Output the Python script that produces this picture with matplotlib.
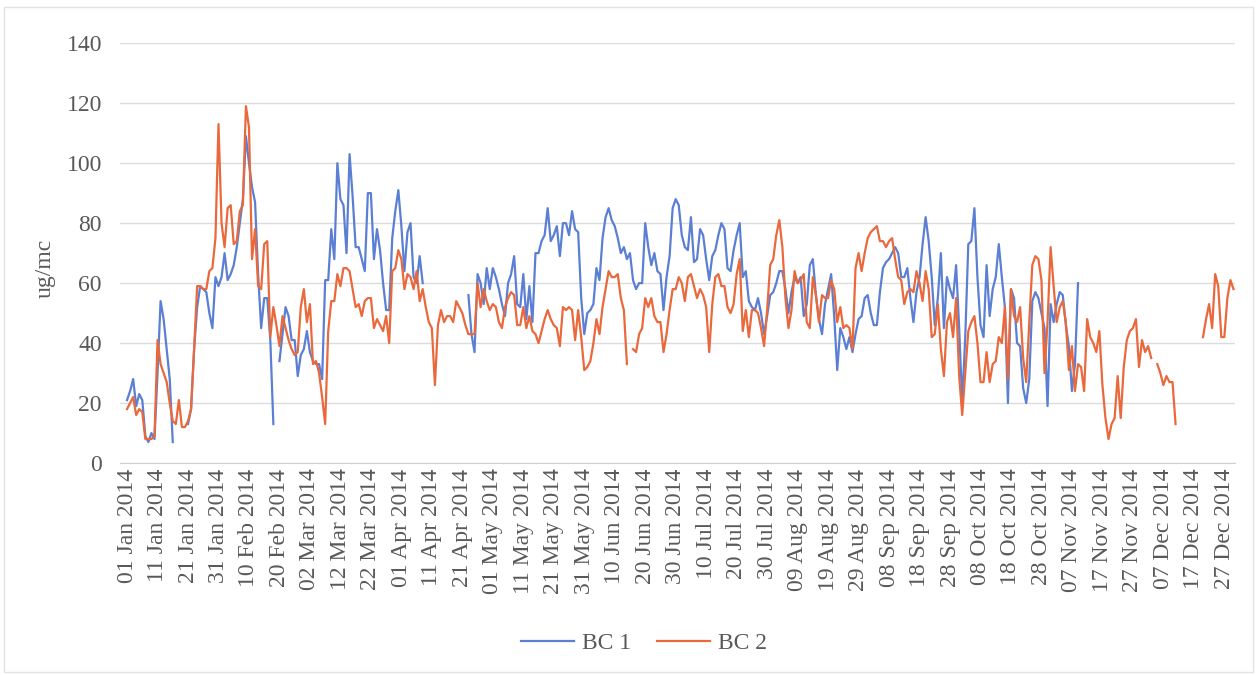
import numpy as np
import pandas as pd
import matplotlib
matplotlib.use('Agg')
import matplotlib.pyplot as plt
from matplotlib.patches import Rectangle

nan = np.nan

# daily values, 01 Jan 2014 onwards (ug/mc)
bc1 = [
    21, 24, 28, 19, 23, 21, 9, 7, 10, 8,
    30, 54, 48, 38, 28, 7, nan, nan, nan, nan,
    13, 18, 38, 52, 59, 58, 57, 50, 45, 62,
    59, 62, 70, 61, 63, 66, 72, 80, 88, 109,
    100, 92, 87, 63, 45, 55, 55, 41, 13, nan,
    34, 43, 52, 49, 41, 41, 29, 36, 38, 44,
    37, 34, 33, 33, 28, 61, 61, 78, 68, 100,
    88, 86, 70, 103, 89, 72, 72, 68, 64, 90,
    90, 68, 78, 71, 60, 51, 51, 75, 84, 91,
    79, 64, 77, 80, 62, 60, 69, 60, nan, nan,
    nan, nan, nan, nan, nan, nan, nan, nan, nan, nan,
    nan, nan, 56, 43, 37, 63, 60, 53, 65, 58,
    65, 62, 58, 53, 49, 60, 63, 69, 53, 52,
    63, 48, 59, 47, 70, 70, 74, 76, 85, 74,
    76, 79, 69, 80, 80, 76, 84, 78, 77, 55,
    43, 50, 51, 53, 65, 61, 75, 82, 85, 81,
    79, 75, 70, 72, 68, 70, 61, 58, 60, 60,
    80, 72, 66, 70, 64, 63, 51, 62, 69, 85,
    88, 86, 76, 72, 71, 82, 67, 68, 78, 76,
    68, 61, 69, 71, 76, 80, 78, 65, 64, 71,
    76, 80, 62, 64, 54, 52, 51, 55, 50, 43,
    49, 56, 57, 60, 64, 64, 58, 50, 57, 62,
    60, 62, 49, 53, 66, 68, 56, 48, 43, 53,
    58, 63, 49, 31, 45, 42, 38, 42, 37, 43,
    48, 49, 55, 56, 50, 46, 46, 57, 65, 67,
    68, 70, 72, 70, 62, 62, 65, 55, 47, 57,
    62, 73, 82, 74, 62, 46, 55, 70, 45, 62,
    58, 55, 66, 45, 20, 42, 73, 74, 85, 62,
    46, 42, 66, 49, 58, 62, 73, 62, 52, 20,
    58, 55, 40, 39, 25, 20, 28, 54, 57, 55,
    50, 45, 19, 53, 47, 53, 57, 56, 46, 39,
    24, 33, 60,
] + [nan] * 51

bc2 = [
    18, 20, 22, 16, 18, 17, 8, 8, 8, 9,
    41, 33, 30, 27, 20, 14, 13, 21, 12, 12,
    14, 18, 38, 59, 59, 58, 58, 64, 65, 75,
    113, 80, 72, 85, 86, 73, 74, 84, 86, 119,
    112, 68, 78, 59, 58, 73, 74, 42, 52, 46,
    39, 49, 45, 41, 38, 36, 37, 52, 58, 47,
    53, 33, 34, 30, 22, 13, 44, 54, 54, 63,
    59, 65, 65, 64, 58, 52, 53, 49, 54, 55,
    55, 45, 48, 46, 44, 49, 40, 64, 65, 71,
    68, 58, 63, 62, 58, 64, 54, 58, 52, 47,
    45, 26, 46, 51, 47, 49, 49, 47, 54, 52,
    50, 46, 43, 43, 43, 60, 52, 58, 54, 51,
    53, 52, 47, 45, 52, 55, 57, 56, 46, 46,
    52, 45, 49, 44, 43, 40, 44, 48, 51, 48,
    46, 45, 39, 52, 51, 52, 51, 41, 51, 42,
    31, 32, 34, 40, 48, 43, 52, 58, 64, 62,
    62, 63, 55, 51, 33, nan, 38, 37, 43, 45,
    55, 52, 55, 49, 47, 47, 37, 43, 51, 58,
    58, 62, 60, 54, 62, 63, 59, 55, 58, 56,
    52, 37, 53, 62, 63, 59, 59, 52, 50, 53,
    63, 68, 44, 51, 42, 51, 51, 50, 45, 39,
    51, 66, 68, 76, 81, 72, 55, 45, 51, 64,
    60, 61, 63, 47, 45, 62, 56, 47, 56, 55,
    55, 61, 58, 47, 52, 45, 46, 45, 38, 65,
    70, 64, 70, 75, 77, 78, 79, 74, 74, 72,
    74, 75, 68, 62, 61, 53, 57, 58, 57, 64,
    60, 54, 64, 58, 42, 43, 53, 38, 29, 47,
    50, 42, 55, 29, 16, 30, 44, 47, 49, 40,
    27, 27, 37, 27, 33, 34, 42, 40, 52, 28,
    58, 49, 47, 52, 35, 27, 47, 66, 69, 68,
    61, 30, 47, 72, 59, 47, 52, 54, 47, 31,
    39, 24, 33, 32, 24, 48, 42, 40, 37, 44,
    26, 15, 8, 13, 15, 29, 15, 32, 41, 44,
    45, 48, 32, 41, 37, 39, 35, nan, 33, 30,
    26, 29, 27, 27, 13, nan, nan, nan, nan, nan,
    nan, nan, nan, 42, 48, 53, 45, 63, 59, 42,
    42, 55, 61, 58,
]

days = pd.date_range('2014-01-01', periods=len(bc2), freq='D')
tick_dates = pd.date_range('2014-01-01', '2014-12-27', freq='10D')
tick_labels = [d.strftime('%d %b %Y') for d in tick_dates]
y_ticks = [0, 20, 40, 60, 80, 100, 120, 140]

plt.rcParams['font.family'] = ['Liberation Serif', 'DejaVu Serif']
txt = '#595959'

fig = plt.figure(figsize=(12.57, 6.75), dpi=100)
fig.patches.append(Rectangle((0.003, 0.004), 0.994, 0.985, transform=fig.transFigure,
                             fill=False, edgecolor='#e3e3e3', lw=1))
ax = fig.add_axes([0.0955, 0.314, 0.887, 0.622])

ax.plot(days, bc1, color='#5B7FD3', lw=1.6, label='BC 1')
ax.plot(days, bc2, color='#E9693C', lw=1.6, label='BC 2')

ax.set_ylim(0, 140)
ax.set_yticks(y_ticks)
ax.set_xlim(days[0] - pd.Timedelta(days=2.3), days[0] + pd.Timedelta(days=363.5))
ax.set_xticks(tick_dates)
ax.set_xticklabels(tick_labels, rotation=90)
ax.grid(axis='y', color='#dcdcdc', lw=1)
ax.set_axisbelow(True)
for s in ['top', 'right', 'left']:
    ax.spines[s].set_visible(False)
ax.spines['bottom'].set_color('#d0d0d0')
ax.tick_params(axis='both', length=0, labelsize=17, colors=txt)
ax.tick_params(axis='y', pad=13)
ax.tick_params(axis='x', pad=4)

ax.set_ylabel('ug/mc', fontsize=17, color=txt)
ax.yaxis.set_label_coords(-0.058, 0.464)

fig.legend(loc='center', bbox_to_anchor=(644 / 1257, 1 - 643 / 675), ncol=2,
           frameon=False, fontsize=17, handlelength=2.25, handletextpad=0.35,
           columnspacing=1.1, labelcolor=txt)

fig.savefig('out.png', dpi=100)
